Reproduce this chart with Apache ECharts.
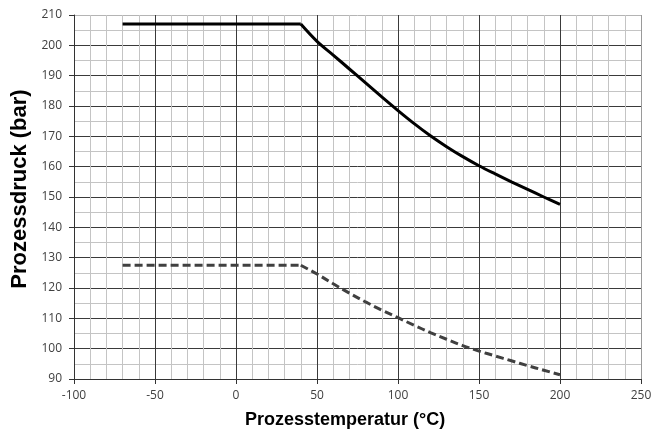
<!DOCTYPE html>
<html>
<head>
<meta charset="utf-8">
<script src="https://cdn.jsdelivr.net/npm/echarts@6/dist/echarts.min.js"></script>
<style>
  html, body { margin: 0; padding: 0; background: #fff; }
  #chart { width: 653px; height: 433px; }
</style>
</head>
<body>
<div id="chart"></div>
<script>
// Temperature points (°C); index 1 (40 °C) is where both curves start to fall
const temps = [-70, 40, 50, 60, 70, 80, 90, 100, 110, 120, 130, 140, 150, 160, 170, 180, 190, 200];
// Upper limit curve (bar)
const pressureMax = [207, 207, 201.3, 196.8, 192.2, 187.6, 183.0, 178.5, 174.2, 170.2, 166.6, 163.3, 160.3, 157.6, 155.0, 152.5, 150.0, 147.6];
// Lower curve (bar)
const pressureLow = [127.5, 127.5, 124.6, 121.4, 118.3, 115.4, 112.7, 110.2, 107.7, 105.3, 103.1, 101.0, 99.2, 97.6, 96.0, 94.4, 92.9, 91.4];

const xTitle = 'Prozesstemperatur (°C)';
const yTitle = 'Prozessdruck (bar)';

const KNEE = 1;
const pairs = (ys, from, to) => temps.slice(from, to).map((t, i) => [t, ys[from + i]]);

const chart = echarts.init(document.getElementById('chart'), null, { renderer: 'canvas' });

const labelFont = { fontFamily: '"Open Sans", sans-serif', fontSize: 12, color: '#404040' };
const titleFont = { fontFamily: '"Liberation Sans", Arial, sans-serif', fontWeight: 'bold', color: '#000' };

// major grid: dark, except the outer edge at the maximum which is light
const ySplit = Array(12).fill('#3a3a3a').concat(['#b4b4b4']);
const xSplit = Array(7).fill('#3a3a3a').concat(['#9a9a9a']);

// flat part and falling part drawn as separate pieces so the knee stays sharp
function curve(ys, style) {
  return [
    { type: 'line', data: pairs(ys, 0, KNEE + 1), showSymbol: false, lineStyle: style, z: 3 },
    { type: 'line', data: pairs(ys, KNEE, temps.length), showSymbol: false, smooth: 0.35, lineStyle: style, z: 3 }
  ];
}

chart.setOption({
  animation: false,
  backgroundColor: '#fff',
  grid: { left: 74, right: 12, top: 15, bottom: 54, containLabel: false, outerBoundsMode: 'none' },
  xAxis: {
    type: 'value',
    min: -100, max: 250, interval: 50,
    name: xTitle,
    nameLocation: 'middle',
    nameGap: 32,
    nameTextStyle: Object.assign({ fontSize: 18, padding: [0, 25, 0, 0] }, titleFont),
    axisLine: { show: true, onZero: false, lineStyle: { color: '#333', width: 1 } },
    axisTick: { show: true, length: 5, lineStyle: { color: '#333' } },
    axisLabel: Object.assign({ margin: 11 }, labelFont),
    splitLine: { show: true, lineStyle: { color: xSplit, width: 1 } },
    minorTick: { show: false, splitNumber: 5 },
    minorSplitLine: { show: true, lineStyle: { color: '#c4c4c4', width: 1 } }
  },
  yAxis: {
    type: 'value',
    min: 90, max: 210, interval: 10,
    name: yTitle,
    nameLocation: 'middle',
    nameGap: 43,
    nameRotate: 90,
    nameTextStyle: Object.assign({ fontSize: 22, padding: [0, 0, 0, 16] }, titleFont),
    axisLine: { show: true, onZero: false, lineStyle: { color: '#333', width: 1 } },
    axisTick: { show: true, length: 5, lineStyle: { color: '#333' } },
    axisLabel: Object.assign({ margin: 12 }, labelFont),
    splitLine: { show: true, lineStyle: { color: ySplit, width: 1 } },
    minorTick: { show: false, splitNumber: 2 },
    minorSplitLine: { show: true, lineStyle: { color: '#c4c4c4', width: 1 } }
  },
  series: [].concat(
    curve(pressureMax, { color: '#000', width: 3 }),
    curve(pressureLow, { color: '#404040', width: 3, type: [8, 4] })
  )
});
</script>
</body>
</html>
